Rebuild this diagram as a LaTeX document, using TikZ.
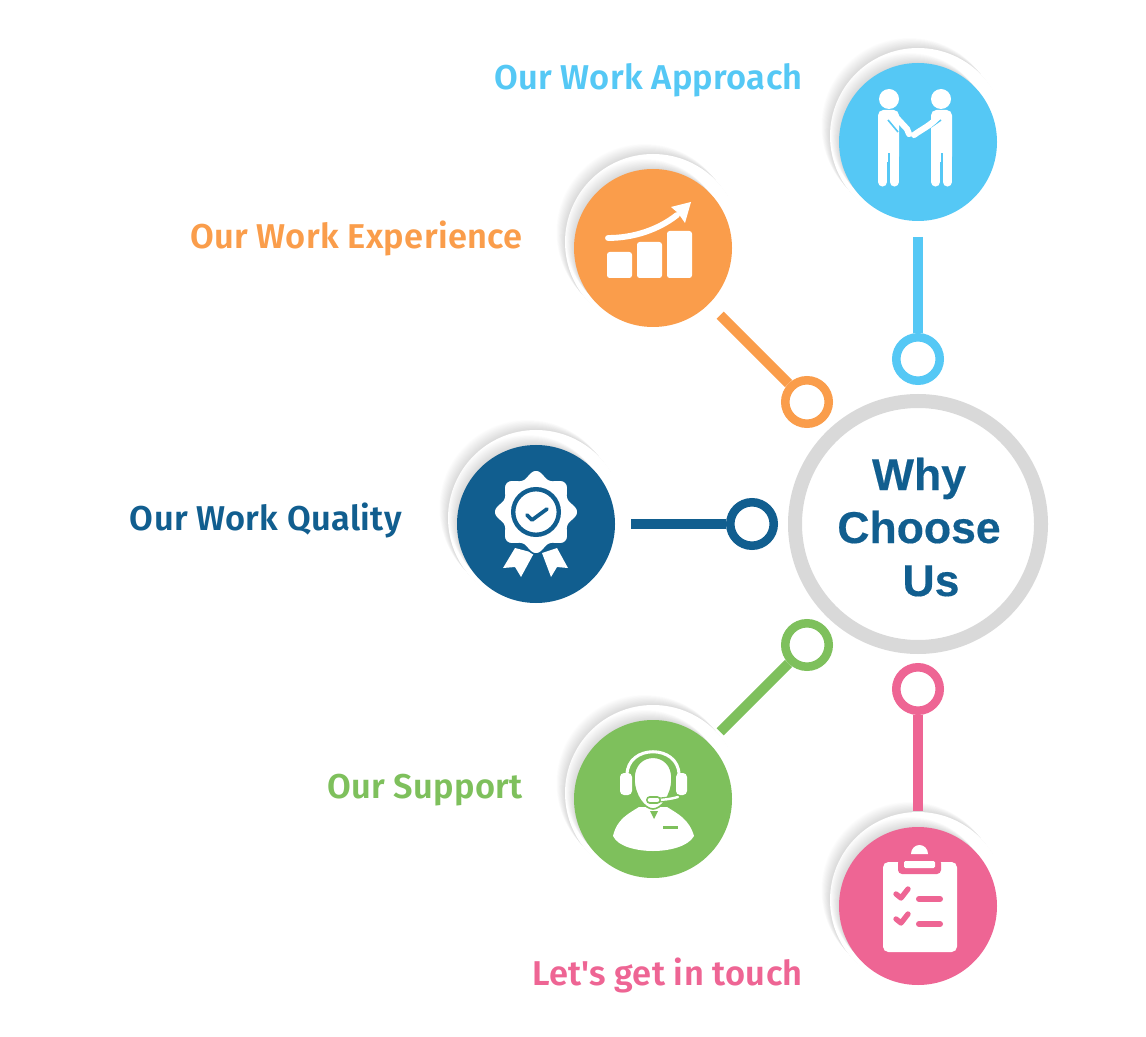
\documentclass[tikz,border=0pt]{standalone}
\usepackage{fontspec}
\usepackage{xcolor}
\usetikzlibrary{arrows.meta,positioning,calc}
\setmainfont{Liberation Sans}
\newfontfamily\labelfont[LetterSpace=1]{Fira Sans SemiBold}
\newfontfamily\wordfont[FakeBold=0.35]{Liberation Sans Bold}

\definecolor{skyc}{HTML}{55C8F5}
\definecolor{orangec}{HTML}{FA9D4B}
\definecolor{navyc}{HTML}{115E8F}
\definecolor{greenc}{HTML}{7EC05C}
\definecolor{pinkc}{HTML}{EE6594}
\definecolor{ringc}{HTML}{D9D9D9}

\tikzset{
  disc/.style={circle, fill=#1, minimum size=118.5pt, inner sep=0pt, outer sep=0pt},
  knob/.style={circle, draw=#1, fill=white, line width=6.4pt, minimum size=32.6pt, inner sep=0pt},
  link/.style={line width=7.5pt, draw=#1, shorten <=12pt},
  lbl/.style={anchor=base east, inner sep=0pt, text=#1, font=\labelfont\fontsize{25.8}{30}\selectfont},
  bigword/.style={anchor=base, text=navyc, font=\wordfont\fontsize{33.4}{38}\selectfont},
}

% crescent shadow up and left of a disc
\newcommand{\softshadow}[3]{
  \foreach \i in {1,...,18} {
    \fill[black, opacity=0.007] ({#1-0.48*\i}, {#2-0.56*\i}) circle (#3*0.75pt);
  }
}

\begin{document}
\begin{tikzpicture}[x=0.75pt, y=-0.75pt]
  \useasboundingbox (0,0) rectangle (1146,1037);

  % Shadows behind the five discs
  \foreach \cx/\cy in {918/142, 653/248, 536/524, 653/799, 918/906} {
    \softshadow{\cx}{\cy-6}{88}
    \fill[white] (\cx, \cy-6) circle (66pt);
    \softshadow{\cx}{\cy}{79}
  }

  % Discs
  \node[disc=skyc] (approach) at (918, 142) {};
  \node[disc=orangec] (experience) at (653, 248) {};
  \node[disc=navyc] (quality) at (536, 524) {};
  \node[disc=greenc] (support) at (653, 799) {};
  \node[disc=pinkc] (touch) at (918, 906) {};

  % Centre ring and its words
  \node[circle, draw=ringc, line width=10.5pt, minimum size=184.5pt, inner sep=0pt] (why) at (918, 524) {};
  \node[bigword] (whyword) at (919, 490) {Why};
  \node[bigword] (chooseword) at (919, 543) {Choose};
  \node[bigword] (usword) at (931, 596) {Us};

  % Small rings
  \node[knob=skyc] (approachknob) at (918, 359) {};
  \node[knob=orangec] (experienceknob) at (807, 402) {};
  \node[knob=navyc] (qualityknob) at (752, 524) {};
  \node[knob=greenc] (supportknob) at (807, 645) {};
  \node[knob=pinkc] (touchknob) at (918, 689) {};

  % Connectors
  \draw[link=skyc] (approach) -- (approachknob);
  \draw[link=orangec] (experience) -- (experienceknob);
  \draw[link=navyc] (quality) -- (qualityknob);
  \draw[link=greenc] (support) -- (supportknob);
  \draw[link=pinkc] (touch) -- (touchknob);

  % Labels
  \node[lbl=skyc] (approachlbl) at (803, 90) {Our Work Approach};
  \node[lbl=orangec] (experiencelbl) at (523, 249) {Our Work Experience};
  \node[lbl=navyc] (qualitylbl) at (402, 530) {Our Work Quality};
  \node[lbl=greenc] (supportlbl) at (523, 798) {Our Support};
  \node[lbl=pinkc] (touchlbl) at (803, 985) {Let's get in touch};

  % Handshake icon
  \begin{scope}[shift={(918,142)}]
    \fill[white] (-29, -43) circle (7.5pt);
    \fill[white] (23, -43) circle (7.5pt);
    \foreach \bx in {-40, 13} {
      \fill[white, rounded corners=4pt] (\bx, -32) rectangle ({\bx+21}, 20);
      \draw[white, line width=6.8pt, line cap=round] ({\bx+4.6}, 10) -- ({\bx+4.6}, 40);
      \draw[white, line width=6.8pt, line cap=round] ({\bx+16.4}, 10) -- ({\bx+16.4}, 40);
      \fill[skyc] ({\bx+9.5}, 11) rectangle ({\bx+11.5}, 46);
    }
    \draw[skyc, line width=1.2pt] (-30, -22) -- (-20, -10);
    \draw[skyc, line width=1.2pt] (23, -22) -- (13, -15);
    \draw[white, line width=4.6pt, line cap=round] (-24, -27) -- (-11, -13) -- (-9, -8);
    \draw[white, line width=4.6pt, line cap=round] (20, -25) .. controls (12, -16) and (4, -13) .. (-4, -7);
  \end{scope}

  % Bar chart icon
  \begin{scope}[shift={(653,248)}]
    \fill[white, rounded corners=2pt] (-46, 4) rectangle (-21, 30);
    \fill[white, rounded corners=2pt] (-16, -6) rectangle (9, 30);
    \fill[white, rounded corners=2pt] (14, -17) rectangle (39, 30);
    \draw[white, line width=4.4pt, line cap=round] (-45, -10) .. controls (-20, -10) and (5, -18) .. (24, -33);
    \fill[white] (38, -46) -- (18, -41) -- (25, -35) -- (32, -25) -- cycle;
  \end{scope}

  % Badge icon
  \begin{scope}[shift={(536,524)}]
    \fill[white] (-21, 24) -- (-2, 29) -- (-15, 53) -- (-21, 43) -- (-33, 44) -- cycle;
    \fill[white] (6, 29) -- (21, 24) -- (32, 44) -- (21, 43) -- (15, 53) -- cycle;
    \filldraw[white, draw=navyc, line width=1.2pt, shift={(0,-12)}] plot[domain=0:360, samples=145] ({(38.5+3.5*cos(8*\x))*cos(\x)}, {(38.5+3.5*cos(8*\x))*sin(\x)}) -- cycle;
    \draw[navyc, line width=3.3pt] (0, -12) circle (17.1pt);
    \draw[navyc, line width=2.8pt, line cap=round, line join=round] (-9, -9) -- (-4, -4) -- (11, -15);
  \end{scope}

  % Headset icon
  \begin{scope}[shift={(653,799)}]
    \fill[white] (-14, 8) .. controls (-25, 15) and (-36, 20) .. (-40, 37) .. controls (-35, 48) and (-15, 52) .. (0, 52) .. controls (15, 52) and (35, 48) .. (41, 37) .. controls (36, 20) and (25, 15) .. (14, 8) -- cycle;
    \fill[greenc] (-3, 12) -- (1, 20) -- (5, 12) -- cycle;
    \fill[greenc] (10, 27) rectangle (25, 29.5);
    \draw[white, line width=2.3pt] (-26, -24) .. controls (-26, -55) and (26, -55) .. (26, -24);
    \filldraw[white, draw=greenc, line width=1.2pt] (-19, -20) .. controls (-20, -49) and (20, -49) .. (19, -20) .. controls (19, -3) and (8, 10) .. (0, 10) .. controls (-8, 10) and (-19, -3) .. (-19, -20) -- cycle;
    \fill[white, rounded corners=3pt] (-33, -26) rectangle (-21, -4);
    \fill[white, rounded corners=3pt] (23, -26) rectangle (34, -4);
    \draw[greenc, line width=3.8pt, line cap=round] (4, 1) .. controls (10, 1) and (18, 0) .. (25, -2);
    \draw[white, line width=1.8pt, line cap=round] (4, 1) .. controls (10, 1) and (18, 0) .. (25, -2);
    \draw[greenc, line width=6pt, line cap=round] (-3, 1) -- (4, 1);
    \draw[white, line width=3.4pt, line cap=round] (-3, 1) -- (4, 1);
  \end{scope}

  % Clipboard icon
  \begin{scope}[shift={(918,906)}]
    \fill[white, rounded corners=4pt] (-35, -44) rectangle (39, 46);
    \fill[white] (-7, -52) arc (180:360:8.5 and 9) -- cycle;
    \fill[pinkc, rounded corners=3pt] (-20, -47) rectangle (23, -32);
    \fill[white, rounded corners=1pt] (-14, -45) rectangle (17, -38);
    \foreach \y in {0, 25} {
      \draw[pinkc, line width=4pt, line cap=round, line join=round] (-22, {-12+\y}) -- (-17, {-8+\y}) -- (-10, {-17+\y});
      \draw[pinkc, line width=4.5pt, line cap=round] (1, {-7+\y}) -- (22, {-7+\y});
    }
  \end{scope}
\end{tikzpicture}
\end{document}
